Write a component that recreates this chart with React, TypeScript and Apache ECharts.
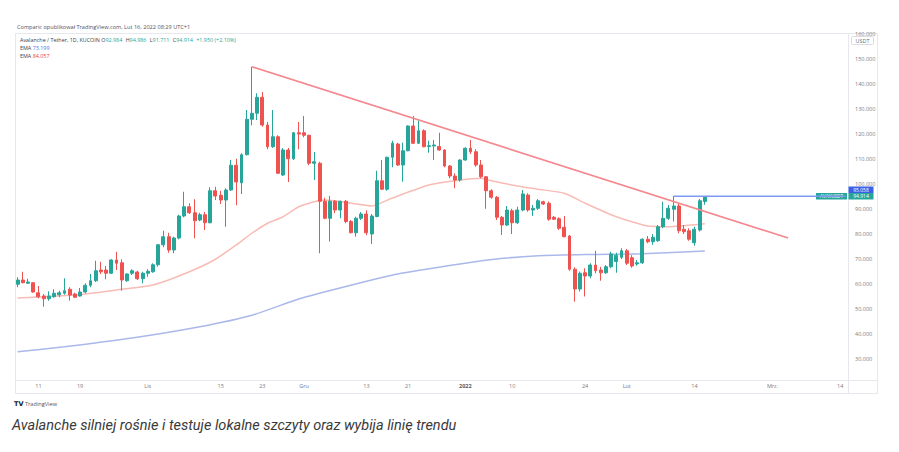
import React, { useEffect, useRef } from "react";
import * as echarts from "echarts";

// ---------- data ----------
const START_UTC = Date.UTC(2021, 9, 7);
const DAY_COUNT = 160;

// [open, close, low, high] daily candles, 2021-10-07 .. 2022-02-16
const candles: number[][] = [
  [59.9, 61.6, 58.7, 62.7], [61.6, 60.5, 60.3, 64.9], [60.3, 60.8, 60.0, 62.1], [60.5, 56.8, 56.5, 60.8],
  [56.5, 54.9, 54.3, 59.2], [55.2, 54.1, 50.9, 56.0], [54.1, 55.2, 53.3, 57.1], [54.9, 56.3, 54.5, 57.9],
  [55.7, 56.5, 54.7, 57.3], [56.3, 57.3, 55.7, 62.3], [57.9, 55.6, 53.3, 58.7], [56.0, 54.7, 54.4, 56.5],
  [55.2, 56.8, 55.0, 58.4], [56.8, 59.5, 56.3, 60.3], [59.5, 61.3, 58.7, 64.0], [61.3, 65.3, 60.8, 69.3],
  [65.6, 64.9, 64.0, 68.9], [65.6, 64.3, 61.9, 67.2], [64.3, 69.6, 64.0, 69.9], [69.6, 68.3, 65.6, 72.9],
  [68.5, 61.6, 57.3, 69.9], [61.3, 64.0, 60.9, 64.3], [64.3, 65.3, 63.6, 65.9], [64.8, 62.1, 61.6, 65.3],
  [62.1, 64.3, 60.3, 64.9], [64.3, 65.1, 62.9, 65.9], [64.9, 67.7, 64.5, 68.3], [67.7, 75.7, 66.9, 76.0],
  [75.7, 78.9, 74.7, 81.3], [78.9, 73.6, 72.5, 80.5], [73.6, 78.4, 72.3, 78.9], [78.4, 87.2, 77.9, 87.7],
  [87.2, 90.9, 86.7, 96.9], [90.9, 88.5, 88.0, 92.3], [88.5, 85.3, 78.3, 93.9], [85.6, 87.7, 85.1, 88.5],
  [87.7, 84.5, 81.6, 88.8], [84.5, 97.3, 84.3, 98.7], [97.3, 95.2, 93.6, 98.9], [95.5, 93.6, 92.0, 97.3],
  [93.6, 97.6, 82.9, 98.3], [97.6, 107.5, 97.3, 109.6], [107.5, 100.8, 91.5, 110.1], [100.5, 111.7, 96.0, 112.3],
  [111.7, 125.9, 111.5, 129.6], [125.9, 128.3, 123.5, 146.9], [128.3, 134.7, 125.6, 136.3], [134.7, 123.6, 122.9, 136.8],
  [123.6, 114.9, 113.9, 124.8], [114.9, 118.9, 114.4, 129.6], [118.9, 104.3, 104.0, 119.5], [103.6, 113.6, 103.2, 114.4],
  [113.6, 110.1, 100.8, 114.4], [110.1, 120.5, 109.6, 120.8], [120.5, 120.0, 113.9, 124.8], [120.5, 119.5, 118.7, 127.2],
  [119.5, 108.3, 107.5, 119.7], [108.3, 108.9, 101.6, 112.8], [108.3, 93.1, 72.3, 108.9], [93.1, 86.3, 85.9, 94.5],
  [86.3, 93.1, 77.0, 95.2], [93.1, 89.6, 88.3, 93.6], [89.6, 93.1, 86.3, 93.3], [93.1, 85.0, 84.3, 93.6],
  [85.0, 80.5, 80.3, 85.6], [80.5, 86.3, 78.9, 86.9], [86.3, 88.0, 85.6, 88.8], [88.0, 80.5, 79.5, 89.5],
  [80.0, 87.2, 76.0, 88.0], [87.0, 101.3, 86.7, 105.3], [101.3, 97.9, 97.6, 109.6], [97.9, 110.7, 97.3, 110.9],
  [110.7, 116.3, 106.7, 117.3], [116.0, 107.6, 107.2, 116.5], [107.6, 113.3, 100.9, 116.5], [113.3, 123.2, 113.1, 123.5],
  [123.2, 116.3, 116.0, 127.2], [116.3, 121.3, 116.0, 125.3], [121.3, 114.9, 114.7, 121.9], [115.0, 115.3, 112.5, 117.3],
  [115.2, 115.6, 109.6, 117.6], [115.0, 113.6, 113.3, 120.5], [113.6, 107.2, 106.7, 113.9], [107.2, 103.2, 102.3, 107.6],
  [103.2, 101.6, 98.3, 104.3], [101.6, 109.6, 100.9, 109.9], [109.6, 114.3, 109.3, 114.7], [114.3, 112.9, 112.0, 117.6],
  [112.9, 107.6, 106.9, 113.9], [107.6, 102.9, 102.3, 109.6], [102.9, 97.3, 90.1, 103.2], [97.3, 94.7, 94.1, 97.9],
  [94.7, 86.7, 85.6, 95.2], [86.7, 83.6, 79.6, 87.2], [83.6, 89.6, 83.2, 91.2], [89.3, 84.5, 80.0, 90.1],
  [84.5, 89.6, 84.0, 90.9], [89.6, 96.0, 89.1, 97.6], [95.6, 89.6, 88.9, 96.3], [89.6, 90.3, 87.2, 91.6],
  [90.3, 93.3, 89.6, 94.0], [92.9, 92.0, 91.6, 93.3], [92.3, 85.9, 85.3, 93.0], [86.7, 85.9, 85.6, 87.2],
  [86.1, 82.3, 81.6, 86.7], [82.7, 78.9, 78.7, 87.2], [79.2, 65.9, 65.3, 79.6], [65.9, 58.0, 52.9, 66.7],
  [58.0, 64.3, 57.0, 65.0], [64.5, 63.2, 55.0, 66.3], [63.2, 67.6, 62.3, 68.3], [67.6, 65.3, 64.3, 73.3],
  [65.6, 64.5, 61.3, 66.9], [64.5, 66.9, 64.0, 67.6], [66.9, 72.0, 66.3, 72.9], [69.0, 71.5, 64.5, 72.5],
  [70.7, 73.3, 70.0, 74.3], [73.3, 68.3, 67.6, 74.0], [70.5, 67.2, 66.5, 71.5], [68.0, 68.5, 67.3, 69.6],
  [68.5, 77.9, 68.0, 78.3], [77.9, 76.9, 76.3, 79.2], [76.9, 78.7, 75.7, 80.0], [77.3, 82.9, 76.9, 83.6],
  [82.9, 86.3, 82.3, 92.9], [86.3, 90.3, 85.6, 91.6], [89.9, 91.2, 85.0, 95.2], [91.2, 81.3, 80.3, 92.3],
  [81.9, 80.9, 80.0, 83.6], [81.3, 77.9, 77.3, 82.3], [76.5, 81.9, 75.3, 82.9], [81.6, 93.3, 81.0, 94.0],
  [92.984, 94.914, 91.711, 94.986],
];

// EMA readings [dayIndex, value]
const emaRed: number[][] = [
  [0, 54.4], [11, 55.6], [20, 57.9], [26, 59.6], [33, 64.9], [38, 69.9], [42, 75.6], [45, 80.3],
  [48, 84.3], [51, 86.9], [54, 90.9], [57, 92.9], [59, 93.6], [64, 92.4], [68, 91.2], [72, 94.4],
  [79, 99.6], [85, 101.6], [89, 102.3], [91, 101.3], [96, 99.2], [100, 97.9], [105, 96.3], [109, 92.3],
  [115, 86.9], [121, 83.2], [125, 82.9], [132, 84.057],
];
const emaBlue: number[][] = [
  [0, 32.9], [9, 34.9], [22, 38.4], [35, 42.9], [45, 47.5], [54, 54.0], [64, 59.5], [73, 64.0],
  [85, 68.0], [92, 70.0], [100, 71.3], [110, 71.8], [120, 72.1], [132, 73.199],
];

// trend line drawn by the author [dayIndex, value]
const trendLine: number[][] = [[45, 146.9], [148, 78.4]];
const resistance = 95.058;
const resistanceFrom = 126;

const lastClose = 94.914;
const yTicks = [30, 40, 50, 60, 70, 80, 90, 100, 110, 120, 130, 140, 150, 160];
const tickDates = [
  "2021-10-11", "2021-10-19", "2021-11-01", "2021-11-15", "2021-11-23", "2021-12-01", "2021-12-13",
  "2021-12-21", "2022-01-01", "2022-01-10", "2022-01-24", "2022-02-01", "2022-02-14", "2022-03-01", "2022-03-14",
];
const tickLabels = ["11", "19", "Lis", "15", "23", "Gru", "13", "21", "2022", "10", "24", "Lut", "14", "Mrz.", "14"];

const categories: string[] = [];
for (let i = 0; i < DAY_COUNT; i++) {
  categories.push(new Date(START_UTC + i * 86400000).toISOString().slice(0, 10));
}

const UP = "#26a69a";
const DOWN = "#ef5350";
const FONT = "'Open Sans', 'Noto Sans', sans-serif";
const AXIS_TXT = "#787b86";
const FRAME = "#e6e8ee";

export default function App() {
  const ref = useRef<HTMLDivElement>(null);
  useEffect(() => {
    if (!ref.current) return;
    const chart = echarts.init(ref.current, undefined, { renderer: "svg" });
    const L = 15, T = 33, R = 848, B = 380, FR = 877, FB = 393;
    chart.setOption({
      animation: false,
      backgroundColor: "#ffffff",
      grid: { left: L, top: T, right: 899 - R, bottom: 452 - B },
      xAxis: {
        type: "category",
        data: categories,
        boundaryGap: true,
        axisLine: { show: false },
        axisTick: { show: false },
        splitLine: { show: false },
        axisLabel: {
          interval: (_i: number, v: string) => tickDates.indexOf(v) >= 0,
          formatter: (v: string) => {
            const k = tickDates.indexOf(v);
            if (k < 0) return "";
            return tickLabels[k] === "2022" ? "{b|2022}" : tickLabels[k];
          },
          rich: { b: { fontWeight: "bold", fontSize: 5.5, color: "#555a66", fontFamily: FONT } },
          fontSize: 5.5,
          color: AXIS_TXT,
          fontFamily: FONT,
          margin: 3,
        },
      },
      yAxis: {
        type: "value",
        position: "right",
        min: 21.6,
        max: 160.4,
        scale: true,
        axisLine: { show: false },
        axisTick: { show: false },
        splitLine: { show: false },
        axisLabel: {
          customValues: yTicks,
          formatter: (v: number) => v.toFixed(3),
          fontSize: 5.5,
          color: AXIS_TXT,
          fontFamily: FONT,
          margin: 7,
        },
      },
      series: [
        {
          type: "line",
          data: emaBlue,
          symbol: "none",
          smooth: 0.2,
          lineStyle: { color: "#aab8ea", width: 1.5 },
          z: 1,
        },
        {
          type: "line",
          data: emaRed,
          symbol: "none",
          smooth: 0.2,
          lineStyle: { color: "#f8bcb6", width: 1.5 },
          z: 1,
        },
        {
          type: "candlestick",
          data: candles,
          barWidth: 3.4,
          itemStyle: {
            color: UP,
            color0: DOWN,
            borderColor: UP,
            borderColor0: DOWN,
            borderWidth: 1,
          },
          z: 2,
        },
        {
          type: "line",
          data: trendLine,
          symbol: "none",
          lineStyle: { color: "#f5878e", width: 1.6 },
          z: 3,
        },
        {
          type: "line",
          data: [[resistanceFrom, resistance], [DAY_COUNT - 1, resistance]],
          symbol: "none",
          lineStyle: { color: "#7e9af0", width: 1.5 },
          z: 3,
        },
      ],
    });

    const yLast = chart.convertToPixel({ yAxisIndex: 0 }, lastClose) as number;
    const boxH = 6.5;
    const lastTop = Math.round(yLast - boxH / 2);
    const resTop = lastTop - boxH;
    const hdr = { fontSize: 5.4, lineHeight: 6, fontFamily: FONT };

    chart.setOption({
      graphic: [
        // frame
        { type: "rect", shape: { x: L + 0.5, y: T + 0.5, width: FR - L, height: FB - T }, style: { fill: "none", stroke: FRAME, lineWidth: 1 }, silent: true },
        { type: "line", shape: { x1: R + 0.5, y1: T, x2: R + 0.5, y2: FB }, style: { stroke: FRAME, lineWidth: 1 } },
        { type: "line", shape: { x1: L, y1: B + 0.5, x2: FR, y2: B + 0.5 }, style: { stroke: FRAME, lineWidth: 1 } },
        // header
        { type: "text", x: 17, y: 26.5, style: { text: "Comparic opublikował TradingView.com, Lut 16, 2022 08:29 UTC+1", fontSize: 5.6, fill: "#50535e", fontFamily: FONT, verticalAlign: "middle" } },
        {
          type: "text", x: 20, y: 39.5,
          style: {
            verticalAlign: "middle",
            text: "{a|Avalanche / Tether, 1D, KUCOIN O}{g|92.984} {a|H}{g|94.986} {a|L}{g|91.711} {a|C}{g|94.914} {g|+1.950 (+2.10%)}",
            rich: {
              a: { ...hdr, fill: "#3b3e48" },
              g: { ...hdr, fill: UP },
            },
          },
        },
        {
          type: "text", x: 20, y: 47.5,
          style: { verticalAlign: "middle", text: "{a|EMA }{b|73.199}", rich: { a: { ...hdr, fill: "#3b3e48" }, b: { ...hdr, fill: "#4f6fe8" } } },
        },
        {
          type: "text", x: 20, y: 55.5,
          style: { verticalAlign: "middle", text: "{a|EMA }{b|84.057}", rich: { a: { ...hdr, fill: "#3b3e48" }, b: { ...hdr, fill: "#f23645" } } },
        },
        // USDT unit box
        { type: "rect", shape: { x: 851.5, y: 36.5, width: 22, height: 8, r: 1 }, style: { fill: "#fff", stroke: "#d1d4dc", lineWidth: 0.8 } },
        { type: "text", x: 862.5, y: 40.5, style: { text: "USDT", fontSize: 5.4, fill: "#6a6d78", fontFamily: FONT, align: "center", verticalAlign: "middle" } },
        // price labels
        { type: "rect", shape: { x: 816, y: lastTop, width: 31, height: boxH }, style: { fill: UP } },
        { type: "text", x: 831.5, y: lastTop + boxH / 2, style: { text: "AVAXUSDT", fontSize: 4.6, fill: "#fff", fontFamily: FONT, align: "center", verticalAlign: "middle" } },
        { type: "rect", shape: { x: R + 0.5, y: lastTop, width: 25, height: boxH }, style: { fill: UP } },
        { type: "text", x: R + 13, y: lastTop + boxH / 2, style: { text: lastClose.toFixed(3), fontSize: 5, fill: "#fff", fontFamily: FONT, align: "center", verticalAlign: "middle" } },
        { type: "rect", shape: { x: R + 0.5, y: resTop, width: 25, height: boxH }, style: { fill: "#3c61e6" } },
        { type: "text", x: R + 13, y: resTop + boxH / 2, style: { text: resistance.toFixed(3), fontSize: 5, fill: "#fff", fontFamily: FONT, align: "center", verticalAlign: "middle" } },
        // TradingView logo
        { type: "text", left: 14, top: 400.5, style: { text: "TV", fontSize: 6.5, fontWeight: 900, fill: "#131722", fontFamily: "'DejaVu Sans', sans-serif" } },
        { type: "text", left: 25, top: 401, style: { text: "TradingView", fontSize: 5.6, fill: "#50535e", fontFamily: FONT } },
        // caption
        { type: "text", left: 12, top: 418, style: { text: "Avalanche silniej rośnie i testuje lokalne szczyty oraz wybija linię trendu", fontSize: 14.5, fontStyle: "italic", fill: "#3a3a3a", fontFamily: "Roboto, 'Noto Sans', sans-serif" } },
      ],
    });
    return () => chart.dispose();
  }, []);
  return <div ref={ref} style={{ position: "fixed", left: 0, top: 0, width: 899, height: 452, background: "#fff" }} />;
}
